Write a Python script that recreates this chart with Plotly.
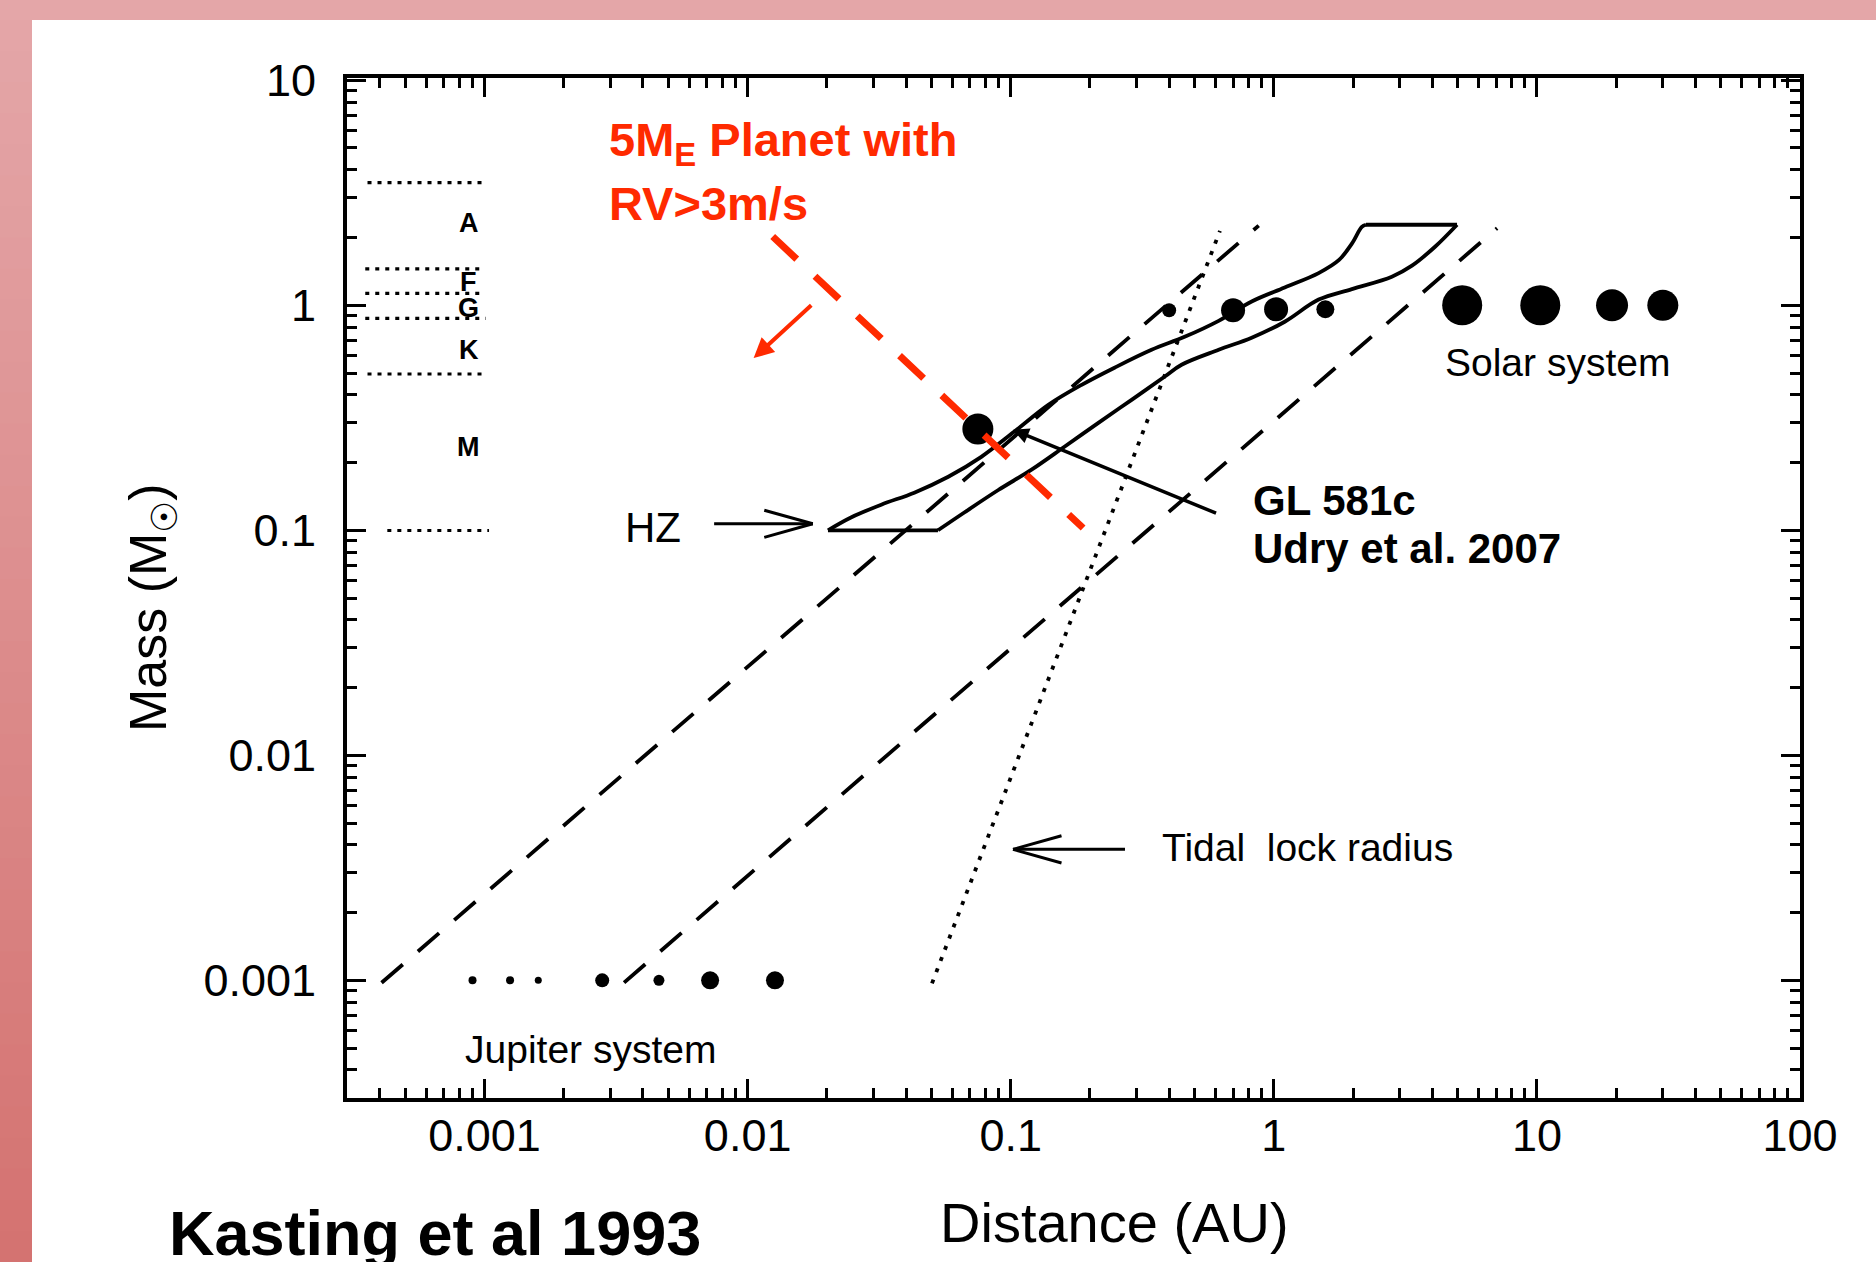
import numpy as np
import plotly.graph_objects as go

# ------------------------------------------------------------------ data
# Habitable-zone outline: distance (AU) vs stellar mass (M_sun)
hz_inner_dist = [0.0202, 0.0247, 0.0322, 0.0430, 0.0579, 0.0773, 0.103, 0.139,
                 0.186, 0.248, 0.343, 0.458, 0.617, 0.824, 1.10, 1.48, 1.77,
                 1.98, 2.16, 2.24]
hz_inner_mass = [0.100, 0.114, 0.130, 0.147, 0.173, 0.212, 0.274, 0.361,
                 0.443, 0.528, 0.634, 0.724, 0.853, 1.04, 1.20, 1.39, 1.59,
                 1.88, 2.23, 2.28]
hz_outer_dist = [4.97, 4.10, 3.35, 2.81, 1.98, 1.48, 1.10, 0.824, 0.617, 0.446,
                 0.384, 0.288, 0.216, 0.160, 0.120, 0.0897, 0.0666, 0.0529]
hz_outer_mass = [2.28, 1.82, 1.50, 1.34, 1.18, 1.06, 0.845, 0.717, 0.634, 0.544,
                 0.481, 0.380, 0.301, 0.235, 0.186, 0.151, 0.120, 0.100]

# dashed boundary lines and the tidal-lock (dotted) line
dash_a_dist = [0.000406, 0.876]
dash_a_mass = [0.000975, 2.26]
dash_b_dist = [0.00339, 7.06]
dash_b_mass = [0.000977, 2.20]
tidal_dist = [0.0502, 0.624]
tidal_mass = [0.00097, 2.14]

# stellar spectral-class boundaries (M_sun) and extents (AU)
class_bounds = [3.51, 1.45, 1.13, 0.874, 0.495, 0.0998]
class_start = [0.000359, 0.000352, 0.000352, 0.000352, 0.000359, 0.000427]
class_end = [0.000991, 0.000991, 0.000991, 0.00101, 0.000983, 0.00104]
class_names = ["A", "F", "G", "K", "M"]
class_label_mass = [2.33, 1.27, 0.97, 0.634, 0.235]
class_label_dist = 0.00087

# Jupiter system (moons) and Solar system (planets)
jup_dist = [0.0009, 0.00125, 0.0016, 0.0028, 0.0046, 0.0072, 0.0127]
jup_mass = [0.001, 0.001, 0.001, 0.001, 0.001, 0.001, 0.001]
jup_size = [8, 8, 7, 14, 11, 18, 18]
sol_dist = [0.40, 0.70, 1.02, 1.57, 5.2, 10.3, 19.3, 30.1]
sol_mass = [0.95, 0.95, 0.96, 0.96, 1.0, 1.0, 1.0, 1.0]
sol_size = [14, 24, 24, 18, 40, 40, 32, 31]

# GL 581c
gl_dist = [0.075]
gl_mass = [0.282]

# RV > 3 m/s detection limit for a 5 M_E planet
rv_dist = [0.01245, 0.1884]
rv_mass = [2.02, 0.1023]

# arrows (tail -> head), distance AU / mass M_sun
rv_arrow = dict(tail=(0.01768, 1.015), head=(0.01054, 0.5825))
gl_arrow = dict(tail=(0.611, 0.1184), head=(0.102, 0.2797))
hz_arrow = dict(tail=(0.00736, 0.1069), head=(0.01768, 0.1069))
tidal_arrow = dict(tail=(0.2754, 0.00382), head=(0.102, 0.00382))

x_tickvals = [0.001, 0.01, 0.1, 1, 10, 100]
x_ticktext = ["0.001", "0.01", "0.1", "1", "10", "100"]
y_tickvals = [0.001, 0.01, 0.1, 1, 10]
y_ticktext = ["0.001", "0.01", "0.1", "1", "10"]

# ------------------------------------------------------------------ layout helpers
FONT = "Liberation Sans, Arial, Helvetica, sans-serif"
RED = "#ff2a00"
W_PX, H_PX = 1876, 1262
L, T, PW, PH = 347, 78, 1453, 1020


def px_x(p):
    return (p - L) / PW


def px_y(p):
    return (T + PH - p) / PH


lg = np.log10

minor_x = [k * 10.0 ** d for d in range(-4, 2) for k in range(2, 10)
           if 3e-4 <= k * 10.0 ** d <= 100]
minor_y = [k * 10.0 ** d for d in range(-4, 1) for k in range(2, 10)
           if 3e-4 <= k * 10.0 ** d <= 10]

fig = go.Figure()


def add_line(xs, ys, width=3.5, dash="solid", color="black", shape="linear"):
    fig.add_trace(go.Scatter(x=xs, y=ys, mode="lines",
                             line=dict(color=color, width=width, dash=dash, shape=shape),
                             hoverinfo="skip", showlegend=False))


def add_dots(xs, ys, sizes):
    fig.add_trace(go.Scatter(x=xs, y=ys, mode="markers",
                             marker=dict(size=sizes, color="black", opacity=1, line_width=0),
                             hoverinfo="skip", showlegend=False))


# spectral class boundaries
for b, x0, x1 in zip(class_bounds, class_start, class_end):
    add_line([x0, x1], [b, b], width=3.2, dash="4px,6px")

# dashed and dotted lines
add_line(dash_a_dist, dash_a_mass, width=3.8, dash="28px,20px")
add_line(dash_b_dist, dash_b_mass, width=3.8, dash="28px,20px")
add_line(tidal_dist, tidal_mass, width=3.8, dash="4px,8px")

# habitable zone outline
add_line(hz_inner_dist, hz_inner_mass, width=3.8, shape="spline")
add_line(hz_outer_dist, hz_outer_mass, width=3.8, shape="spline")
add_line([hz_inner_dist[-1], hz_outer_dist[0]], [hz_inner_mass[-1], hz_outer_mass[0]], width=3.8)
add_line([hz_outer_dist[-1], hz_inner_dist[0]], [hz_outer_mass[-1], hz_inner_mass[0]], width=3.8)

# planets / moons
add_dots(jup_dist, jup_mass, jup_size)
add_dots(sol_dist, sol_mass, sol_size)
add_dots(gl_dist, gl_mass, [31])

# red RV limit line
add_line(rv_dist, rv_mass, width=7, dash="33px,25px", color=RED)

# ------------------------------------------------------------------ background
shapes = [dict(type="rect", xref="paper", yref="paper", x0=px_x(0), x1=px_x(W_PX),
               y0=px_y(20), y1=px_y(0), fillcolor="#e4a6a8", line_width=0, layer="below")]
n = 40
c0 = np.array([228, 166, 168])
c1 = np.array([212, 114, 112])
for i in range(n):
    ya = 20 + (H_PX - 20) * i / n
    yb = 20 + (H_PX - 20) * (i + 1) / n + 1
    c = c0 + (c1 - c0) * (i + 0.5) / n
    shapes.append(dict(type="rect", xref="paper", yref="paper", x0=px_x(0), x1=px_x(32),
                       y0=px_y(yb), y1=px_y(ya),
                       fillcolor="rgb(%d,%d,%d)" % tuple(c.round().astype(int)),
                       line_width=0, layer="below"))

# ------------------------------------------------------------------ annotations
ann = []


def text_px(txt, x, y, size, color="black", xanchor="left", yanchor="middle", angle=0):
    ann.append(dict(text=txt, x=px_x(x), y=px_y(y), xref="paper", yref="paper",
                    xanchor=xanchor, yanchor=yanchor, showarrow=False, textangle=angle,
                    font=dict(family=FONT, size=size, color=color)))


def arrow(a, head=2, width=3.5, size=1.0, color="black"):
    (tx, ty), (hx, hy) = a["tail"], a["head"]
    ann.append(dict(text="", x=lg(hx), y=lg(hy), ax=lg(tx), ay=lg(ty), xref="x", yref="y",
                    axref="x", ayref="y", showarrow=True, arrowhead=head, arrowwidth=width,
                    arrowsize=size, arrowcolor=color, standoff=0, startstandoff=0))


def open_head(a, arm_len=50, half=14, width=3):
    (tx, ty), (hx, hy) = a["tail"], a["head"]
    sgn = -1 if tx < hx else 1
    for s in (-1, 1):
        ann.append(dict(text="", x=lg(hx), y=lg(hy), xref="x", yref="y", axref="pixel",
                        ayref="pixel", ax=sgn * arm_len, ay=s * half, showarrow=True,
                        arrowhead=0, arrowwidth=width, arrowcolor="black", standoff=0))


arrow(rv_arrow, head=2, width=4, size=1.0, color=RED)
arrow(gl_arrow, head=2, width=3.5, size=0.9)
arrow(hz_arrow, head=0, width=3)
open_head(hz_arrow)
arrow(tidal_arrow, head=0, width=3)
open_head(tidal_arrow)

# spectral class letters
for name, m in zip(class_names, class_label_mass):
    ann.append(dict(text="<b>%s</b>" % name, x=lg(class_label_dist), y=lg(m), xref="x",
                    yref="y", showarrow=False, xanchor="center", yanchor="middle",
                    font=dict(family=FONT, size=27, color="black")))

text_px("HZ", 653, 527, 42, xanchor="center")
text_px("Tidal\u00a0 lock radius", 1160, 847, 39)
text_px("Solar system", 1443, 362, 39)
text_px("Jupiter system", 463, 1049, 39)
text_px("<b>GL 581c</b>", 1251, 500, 42)
text_px("<b>Udry et al. 2007</b>", 1251, 548, 42)
text_px("<b>5M<sub>E</sub> Planet with</b>", 607, 143, 47, color=RED)
text_px("<b>RV>3m/s</b>", 607, 203, 47, color=RED)
text_px("Distance (AU)", 1114, 1222, 56, xanchor="center")
text_px("Mass (M<sub>☉</sub>)", 152, 607, 52, xanchor="center", angle=-90)
text_px("<b>Kasting et al 1993</b>", 167, 1233, 63)

# ------------------------------------------------------------------ axes
common = dict(type="log", showline=True, linewidth=4, linecolor="black", mirror="allticks",
              ticks="inside", ticklen=19, tickwidth=3, tickcolor="black", showgrid=False,
              zeroline=False, tickfont=dict(family=FONT, size=45, color="black"))
fig.update_xaxes(range=[lg(3e-4), 2], tickmode="array", tickvals=x_tickvals,
                 ticktext=x_ticktext, ticklabelstandoff=-5,
                 minor=dict(tickmode="array", tickvals=minor_x, ticks="inside", ticklen=10,
                            tickwidth=2.5, tickcolor="black", showgrid=False), **common)
fig.update_yaxes(range=[lg(3e-4), 1.01], tickmode="array", tickvals=y_tickvals,
                 ticktext=y_ticktext, ticklabelstandoff=18,
                 minor=dict(tickmode="array", tickvals=minor_y, ticks="inside", ticklen=10,
                            tickwidth=2.5, tickcolor="black", showgrid=False), **common)

fig.update_layout(width=W_PX, height=H_PX, autosize=False,
                  margin=dict(l=L, r=W_PX - L - PW, t=T, b=H_PX - T - PH, pad=0),
                  paper_bgcolor="white", plot_bgcolor="white", showlegend=False,
                  hovermode=False, shapes=shapes, annotations=ann,
                  font=dict(family=FONT, color="black"))

fig.write_html("out.html", config={"displayModeBar": False},
               post_script="document.body.style.margin='0';document.body.style.overflow='hidden';")
